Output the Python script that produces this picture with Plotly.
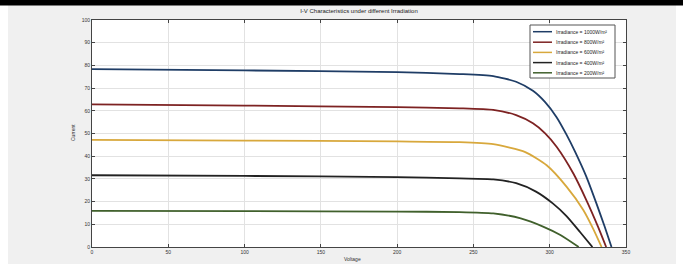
import plotly.graph_objects as go

# ---- data ----
names = ["Irradiance = 1000W/m²", "Irradiance = 800W/m²", "Irradiance = 600W/m²",
         "Irradiance = 400W/m²", "Irradiance = 200W/m²"]

v_1000 = [0, 100, 200, 241, 263, 278, 289, 297, 304.5, 311, 316.6, 324, 330.6, 336, 340.5]
i_1000 = [78.4, 77.8, 77.0, 76.2, 75.3, 72.8, 68.8, 63.8, 57.2, 49.5, 42.0, 31.0, 19.2, 9.0, 0]

v_800 = [0, 100, 200, 241, 263, 278, 289, 297, 304.5, 315.5, 324, 331.7, 337]
i_800 = [62.8, 62.3, 61.6, 61.1, 60.4, 58.1, 54.5, 50.1, 44.2, 32.4, 20.7, 8.9, 0]

v_600 = [0, 100, 200, 241, 263, 284, 298, 311, 322, 328.5, 334]
i_600 = [47.2, 46.9, 46.5, 46.2, 45.3, 41.8, 36.0, 26.6, 16.3, 8.0, 0]

v_400 = [0, 100, 200, 241, 263, 278, 291, 302, 311, 320, 328]
i_400 = [31.6, 31.3, 30.8, 30.2, 29.8, 28.1, 24.4, 19.2, 13.6, 6.5, 0]

v_200 = [0, 100, 200, 241, 263, 281, 296, 307, 319]
i_200 = [15.9, 15.8, 15.6, 15.4, 14.8, 12.6, 8.9, 5.3, 0]

x_ticks = [0, 50, 100, 150, 200, 250, 300, 350]
y_ticks = [0, 10, 20, 30, 40, 50, 60, 70, 80, 90, 100]

colors = ["#1f3d66", "#7d2222", "#d8a83c", "#222222", "#40602c"]
series = [(v_1000, i_1000), (v_800, i_800), (v_600, i_600), (v_400, i_400), (v_200, i_200)]

fig = go.Figure()
for (vx, iy), nm, c in zip(series, names, colors):
    fig.add_trace(go.Scatter(x=vx, y=iy, mode="lines", name=nm, showlegend=False,
                             line=dict(color=c, width=1.8, shape="spline", smoothing=0.6)))

W, H = 683, 264
L, R, T, B = 92, 626, 20, 247


def px_x(p):
    return (p - L) / (R - L)


def px_y(p):
    return (B - p) / (B - T)


shapes = [
    dict(type="rect", xref="paper", yref="paper", x0=px_x(0), x1=px_x(8), y0=px_y(264), y1=px_y(0),
         fillcolor="white", line_width=0, layer="below"),
    dict(type="rect", xref="paper", yref="paper", x0=px_x(676), x1=px_x(683), y0=px_y(264), y1=px_y(0),
         fillcolor="white", line_width=0, layer="below"),
    dict(type="rect", xref="paper", yref="paper", x0=px_x(-2), x1=px_x(690), y0=px_y(5.5), y1=px_y(-2),
         fillcolor="black", line_width=0, layer="above"),
    # legend box
    dict(type="rect", xref="paper", yref="paper", x0=px_x(530), x1=px_x(615), y0=px_y(78), y1=px_y(25),
         fillcolor="white", line=dict(color="#555555", width=1)),
]
annotations = []
entry_y = [31.7, 42.2, 52.4, 62.6, 72.8]
for nm, c, ey in zip(names, colors, entry_y):
    shapes.append(dict(type="line", xref="paper", yref="paper", x0=px_x(533), x1=px_x(552),
                       y0=px_y(ey), y1=px_y(ey), line=dict(color=c, width=1.5)))
    annotations.append(dict(text=nm, xref="paper", yref="paper", x=px_x(554), y=px_y(ey),
                            xanchor="left", yanchor="middle", showarrow=False,
                            font=dict(size=5, color="#222222")))

# axis titles
annotations.append(dict(text="Voltage", xref="paper", yref="paper", x=px_x(352), y=px_y(258.5),
                        xanchor="center", yanchor="middle", showarrow=False,
                        font=dict(size=5, color="#333333")))
annotations.append(dict(text="Current", xref="paper", yref="paper", x=px_x(73), y=px_y(133),
                        xanchor="center", yanchor="middle", showarrow=False, textangle=-90,
                        font=dict(size=5, color="#333333")))

fig.update_layout(
    width=W, height=H,
    margin=dict(l=L, r=W - R, t=T, b=H - B, pad=0),
    paper_bgcolor="#f0f0f0",
    plot_bgcolor="white",
    font=dict(family="Liberation Sans, Arial", size=5, color="#333333"),
    title=dict(text="I-V Characteristics under different Irradiation", x=0.5, xref="paper",
               y=1 - 11 / H, yanchor="middle", font=dict(size=6, color="#222222")),
    showlegend=False,
    shapes=shapes,
    annotations=annotations,
)

fig.update_xaxes(range=[0, 350], tickvals=x_ticks, ticks="inside", ticklen=3, automargin=False,
                 tickcolor="#444444", showline=True, linecolor="#444444", linewidth=1, mirror="ticks",
                 showgrid=True, gridcolor="#e2e2e2", gridwidth=1, zeroline=False,
                 tickfont=dict(size=5, color="#333333"))
fig.update_yaxes(range=[0, 100], tickvals=y_ticks, ticks="inside", ticklen=3, automargin=False,
                 tickcolor="#444444", showline=True, linecolor="#444444", linewidth=1, mirror="ticks",
                 showgrid=True, gridcolor="#e2e2e2", gridwidth=1, zeroline=False,
                 tickfont=dict(size=5, color="#333333"))

fig.write_html("out.html", config={"displayModeBar": False},
               post_script="document.body.style.margin='0';")
